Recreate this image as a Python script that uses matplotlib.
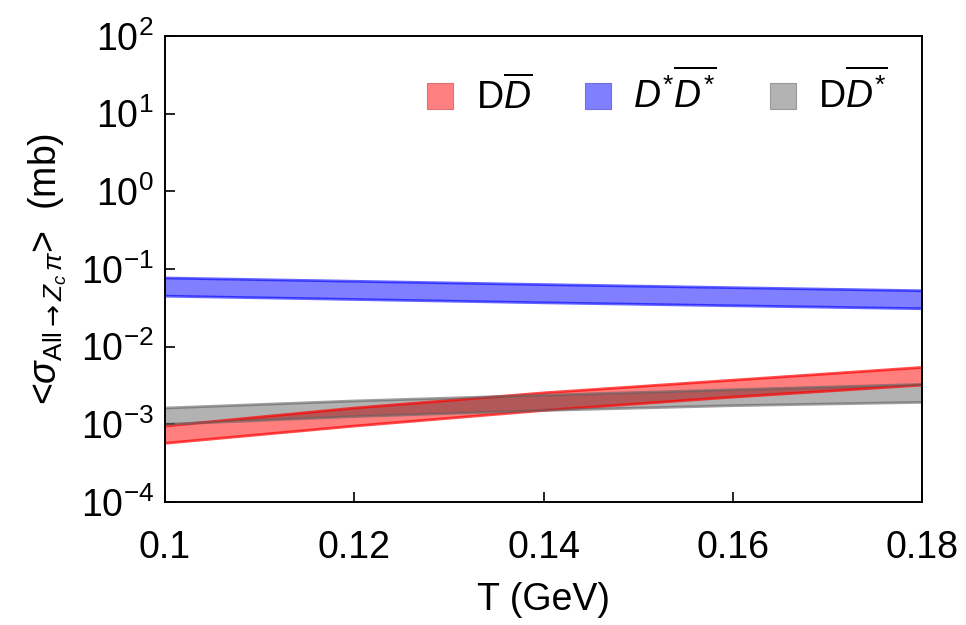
import numpy as np
import matplotlib
matplotlib.use("Agg")
import matplotlib.pyplot as plt

plt.rcParams["font.family"] = ["Liberation Sans", "DejaVu Sans"]
plt.rcParams["mathtext.fontset"] = "custom"
plt.rcParams["mathtext.rm"] = "Liberation Sans"
plt.rcParams["mathtext.it"] = "Liberation Sans:italic"
plt.rcParams["mathtext.bf"] = "Liberation Sans:bold"
plt.rcParams["mathtext.sf"] = "DejaVu Sans"

# temperature grid (GeV)
T = [0.10, 0.12, 0.14, 0.16, 0.18]

# band limits (mb)
dd_hi = [9.5e-4, 1.62e-3, 2.54e-3, 3.7e-3, 5.4e-3]
dd_lo = [5.7e-4, 9.5e-4, 1.51e-3, 2.24e-3, 3.2e-3]
dsds_hi = [0.0766, 0.0695, 0.063, 0.0575, 0.0525]
dsds_lo = [0.0447, 0.0405, 0.0367, 0.0336, 0.0308]
dds_hi = [1.62e-3, 2.0e-3, 2.37e-3, 2.79e-3, 3.27e-3]
dds_lo = [1.0e-3, 1.26e-3, 1.51e-3, 1.74e-3, 1.92e-3]

labels = [r"D$\overline{D}$", r"$D^{*}\overline{D^{*}}$", r"D$\overline{D^{*}}$"]

fig = plt.figure(figsize=(9.66, 6.25), dpi=100)
ax = fig.add_axes([0.1708, 0.1968, 0.7837, 0.7456])

# red band (opacity 0.5), blue band, grey = black at opacity 0.3 on top
ax.fill_between(T, dd_lo, dd_hi, facecolor="red", edgecolor="none", alpha=0.5)
ax.plot(T, dd_lo, color="red", lw=2, alpha=0.7)
ax.plot(T, dd_hi, color="red", lw=2, alpha=0.7)

ax.fill_between(T, dsds_lo, dsds_hi, facecolor="blue", edgecolor="none", alpha=0.5)
ax.plot(T, dsds_lo, color="blue", lw=2, alpha=0.6)
ax.plot(T, dsds_hi, color="blue", lw=2, alpha=0.6)

ax.fill_between(T, dds_lo, dds_hi, facecolor="black", edgecolor="none", alpha=0.3)
ax.plot(T, dds_lo, color="#606060", lw=2, alpha=0.6)
ax.plot(T, dds_hi, color="#606060", lw=2, alpha=0.6)

ax.set_yscale("log")
ax.set_xlim(0.1, 0.18)
ax.set_ylim(1e-4, 1e2)
ax.set_xticks([0.1, 0.12, 0.14, 0.16, 0.18])
ax.set_xticklabels(["0.1", "0.12", "0.14", "0.16", "0.18"])
ax.set_yticks([10.0 ** k for k in range(-4, 3)])
ax.yaxis.set_minor_locator(matplotlib.ticker.NullLocator())
ax.tick_params(axis="both", which="major", direction="in", length=7, width=1.2,
               labelsize=27)
ax.tick_params(axis="x", pad=20)
ax.tick_params(axis="y", pad=8)
for s in ax.spines.values():
    s.set_linewidth(1.4)

ax.set_xlabel("T (GeV)", fontsize=27, labelpad=12)
ax.set_ylabel(r"<$\sigma_{\mathrm{All}\mathsf{\rightarrow}Z_c\,\pi}$>  (mb)",
              fontsize=27, labelpad=8)

fills = ["#ff8080", "#8080ff", "#b3b3b3"]
ecs = ["#e07070", "#7070e0", "#999999"]
handles = [plt.Rectangle((0, 0), 1, 1, facecolor=fc, edgecolor=ec, lw=0.8)
           for fc, ec in zip(fills, ecs)]
ax.legend(handles, labels, loc="upper right", ncol=3, frameon=False, fontsize=27,
          handlelength=0.7, handleheight=0.7, handletextpad=0.6, columnspacing=1.4,
          bbox_to_anchor=(1.0, 1.0))

fig.savefig("out.png", dpi=100)
